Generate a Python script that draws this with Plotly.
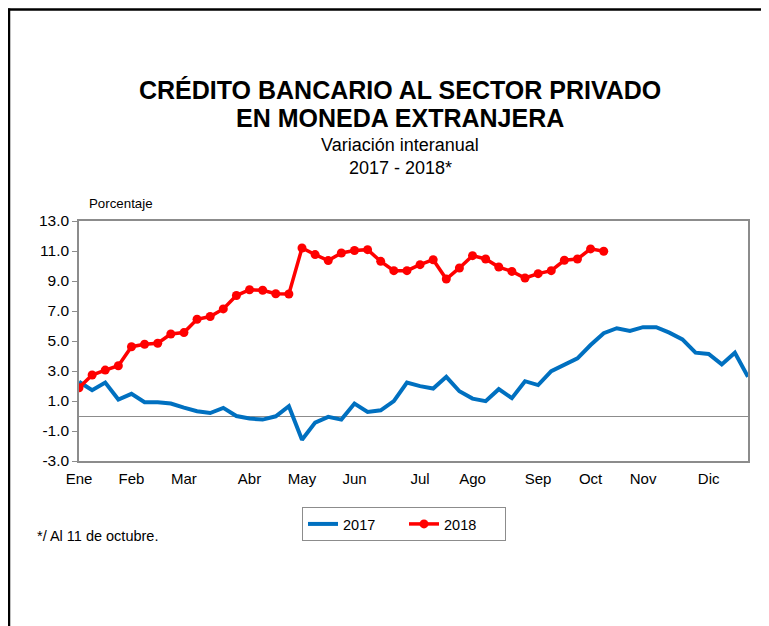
import plotly.graph_objects as go

# ---- data ----
months = ["Ene", "Feb", "Mar", "Abr", "May", "Jun", "Jul", "Ago", "Sep", "Oct", "Nov", "Dic"]
month_week = [0, 4, 8, 13, 17, 21, 26, 30, 35, 39, 43, 48]
y_tickvals = [-3, -1, 1, 3, 5, 7, 9, 11, 13]
y_ticktext = ["-3.0", "-1.0", "1.0", "3.0", "5.0", "7.0", "9.0", "11.0", "13.0"]

v2017 = [2.28, 1.72, 2.23, 1.10, 1.48, 0.92, 0.92, 0.83, 0.56, 0.32,
         0.20, 0.54, 0.00, -0.17, -0.24, -0.02, 0.65, -1.58, -0.44, -0.06,
         -0.24, 0.83, 0.27, 0.38, 0.99, 2.23, 1.99, 1.83, 2.61, 1.65,
         1.16, 0.99, 1.79, 1.19, 2.32, 2.06, 2.99, 3.40, 3.84, 4.73,
         5.52, 5.85, 5.67, 5.92, 5.92, 5.56, 5.11, 4.22, 4.13, 3.44,
         4.22, 2.61]
v2018 = [1.88, 2.73, 3.06, 3.35, 4.62, 4.78, 4.85, 5.47, 5.56, 6.45,
         6.63, 7.14, 8.03, 8.42, 8.38, 8.15, 8.13, 11.20, 10.76, 10.36,
         10.87, 11.03, 11.09, 10.31, 9.69, 9.69, 10.09, 10.42, 9.13, 9.87,
         10.69, 10.47, 9.93, 9.64, 9.20, 9.49, 9.69, 10.38, 10.47, 11.14,
         10.98]

weeks17 = list(range(len(v2017)))
weeks18 = list(range(len(v2018)))

OFF = 8  # page body margin
W, H = 769 - OFF, 626 - OFF
L, R, T, B = 79 - OFF, 748 - OFF, 221 - OFF, 461 - OFF

def fx(px):
    return (px - OFF - L) / (R - L)

def fy(py):
    return (B - (py - OFF)) / (B - T)

FONT = "Liberation Sans, Arial, sans-serif"

fig = go.Figure()
fig.add_trace(go.Scatter(x=weeks17, y=v2017, name="2017", mode="lines",
                         line=dict(color="#0070C0", width=4)))
fig.add_trace(go.Scatter(x=weeks18, y=v2018, name="2018", mode="lines+markers",
                         line=dict(color="#FF0000", width=3.5),
                         marker=dict(color="#FF0000", size=9)))

fig.update_layout(
    width=W, height=H,
    margin=dict(l=L, r=W - R, t=T, b=H - B),
    paper_bgcolor="white", plot_bgcolor="white",
    font=dict(family=FONT, color="black", size=15),
    showlegend=True,
    legend=dict(orientation="h", x=fx(404), xanchor="center", y=fy(507), yanchor="top",
                bordercolor="#8c8c8c", borderwidth=1, font=dict(size=14.5),
                entrywidth=56, entrywidthmode="pixels"),
    xaxis=dict(range=[0, 51], tickvals=month_week, ticktext=months,
               showgrid=False, zeroline=False, showline=True, linecolor="#8c8c8c",
               linewidth=1.5, mirror=True, ticks="", tickfont=dict(size=15),
               ticklabelstandoff=3),
    yaxis=dict(range=[-3, 13], tickvals=y_tickvals, ticktext=y_ticktext,
               showgrid=False, zeroline=True, zerolinecolor="#8c8c8c", zerolinewidth=1,
               showline=True, linecolor="#8c8c8c", linewidth=1.5, mirror=True,
               ticks="outside", ticklen=5, tickcolor="#8c8c8c", tickfont=dict(size=15.5)),
)

anns = [
    ("CRÉDITO BANCARIO AL SECTOR PRIVADO", 400, 90, 25, True),
    ("EN MONEDA EXTRANJERA", 400, 118, 25, True),
    ("Variación interanual", 400, 145, 18, False),
    ("2017 - 2018*", 400, 168, 18, False),
]
for text, px, py, size, bold in anns:
    fig.add_annotation(text=f"<b>{text}</b>" if bold else text,
                       x=fx(px), y=fy(py), xref="paper", yref="paper",
                       xanchor="center", yanchor="middle", showarrow=False,
                       font=dict(size=size, family=FONT, color="black"))

fig.add_annotation(text="Porcentaje", x=fx(87), y=fy(203), xref="paper", yref="paper",
                   xanchor="left", yanchor="middle", showarrow=False,
                   font=dict(size=13.3, family=FONT))
fig.add_annotation(text="*/ Al 11 de octubre.", x=fx(35), y=fy(536), xref="paper", yref="paper",
                   xanchor="left", yanchor="middle", showarrow=False,
                   font=dict(size=14.5, family=FONT))

# page frame (top and left border)
fig.add_shape(type="line", xref="paper", yref="paper",
              x0=fx(8), x1=fx(769), y0=fy(9.5), y1=fy(9.5),
              line=dict(color="black", width=2.5))
fig.add_shape(type="line", xref="paper", yref="paper",
              x0=fx(9), x1=fx(9), y0=fy(8.5), y1=fy(626),
              line=dict(color="black", width=2.5))

fig.write_html("out.html")
